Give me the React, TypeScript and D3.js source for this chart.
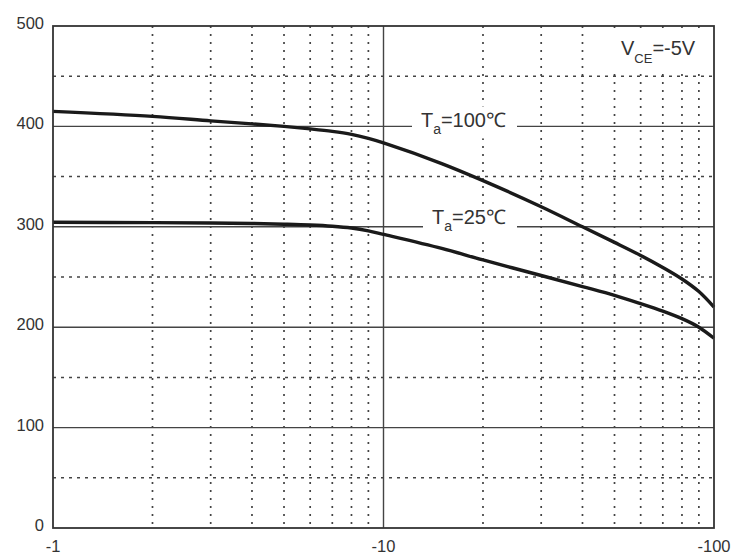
import React from "react";
import * as d3 from "d3";

const xValues = [1, 2, 3, 4, 5, 6, 7, 8, 9, 10, 15, 20, 30, 40, 50, 60, 70, 80, 90, 100];
const ta100 = [415, 410, 405.5, 402.5, 400, 397.5, 395, 392, 388, 383.5, 363, 346, 320, 300, 284.5, 271.5, 259.5, 248, 235.5, 220];
const ta25 = [304.5, 304.2, 303.8, 303.3, 302.6, 301.8, 300.6, 298.8, 296, 292.5, 278.5, 267, 251.5, 240.5, 231.8, 223.5, 216, 208.5, 200, 189];

const yMajor = [0, 100, 200, 300, 400, 500];
const yMinor = [50, 150, 250, 350, 450];
const xMajor = [1, 10, 100];
const xLabels = ["-1", "-10", "-100"];
const xMinor = [2, 3, 4, 5, 6, 7, 8, 9, 20, 30, 40, 50, 60, 70, 80, 90];

const W = 738;
const H = 560;
const L = 53, R = 714, T = 26, B = 528;

export default function App() {
  const x = d3.scaleLog().domain([1, 100]).range([L, R]);
  const y = d3.scaleLinear().domain([0, 500]).range([B, T]);
  const line = d3
    .line<number>()
    .x((_, i) => x(xValues[i]))
    .y((d) => y(d))
    .curve(d3.curveCatmullRom.alpha(0.5));

  const font = "'Liberation Sans', Arial, sans-serif";
  const txt = "#333";
  const grid = "#444";

  return (
    <svg
      width={W}
      height={H}
      style={{ position: "absolute", left: 0, top: 0, background: "#fff" }}
      fontFamily={font}
    >
      <rect x={0} y={0} width={W} height={H} fill="#fff" />
      {xMinor.map((v) => (
        <line key={"xv" + v} x1={x(v)} x2={x(v)} y1={T} y2={B} stroke={grid} strokeWidth={1.7} strokeDasharray="2,6" />
      ))}
      {yMinor.map((v) => (
        <line key={"yv" + v} x1={L} x2={R} y1={y(v)} y2={y(v)} stroke={grid} strokeWidth={1.5} strokeDasharray="3,5" />
      ))}
      {yMajor.slice(1, 5).map((v) => (
        <line key={"ym" + v} x1={L} x2={R} y1={y(v)} y2={y(v)} stroke={grid} strokeWidth={1.4} />
      ))}
      <line x1={x(10)} x2={x(10)} y1={T} y2={B} stroke={grid} strokeWidth={1.4} />

      <rect x={412} y={y(400) - 20} width={105} height={32} fill="#fff" />
      <rect x={423} y={y(300) - 20} width={94} height={32} fill="#fff" />
      <rect x={608} y={31} width={100} height={38} fill="#fff" />

      <path d={line(ta100) || ""} fill="none" stroke="#1a1a1a" strokeWidth={3.4} />
      <path d={line(ta25) || ""} fill="none" stroke="#1a1a1a" strokeWidth={3.4} />

      <rect x={L} y={T} width={R - L} height={B - T} fill="none" stroke="#333" strokeWidth={1.8} />

      {yMajor.map((v) => (
        <text key={"yl" + v} x={44} y={y(v) + 3} textAnchor="end" fontSize={16.5} fill={txt}>
          {v}
        </text>
      ))}
      {xMajor.map((v, i) => (
        <text key={"xl" + v} x={x(v)} y={552} textAnchor="middle" fontSize={16.5} fill={txt}>
          {xLabels[i]}
        </text>
      ))}

      <text x={506} y={y(400) + 1} textAnchor="end" fontSize={20} fill={txt}>
        T<tspan fontSize={14} dy={7}>a</tspan>
        <tspan dy={-7}>=100℃</tspan>
      </text>
      <text x={506} y={y(300) - 3} textAnchor="end" fontSize={20} fill={txt}>
        T<tspan fontSize={14} dy={7}>a</tspan>
        <tspan dy={-7}>=25℃</tspan>
      </text>
      <text x={621} y={55} fontSize={20} fill={txt}>
        V<tspan fontSize={13} dy={8}>CE</tspan>
        <tspan dy={-8}>=-5V</tspan>
      </text>
    </svg>
  );
}
